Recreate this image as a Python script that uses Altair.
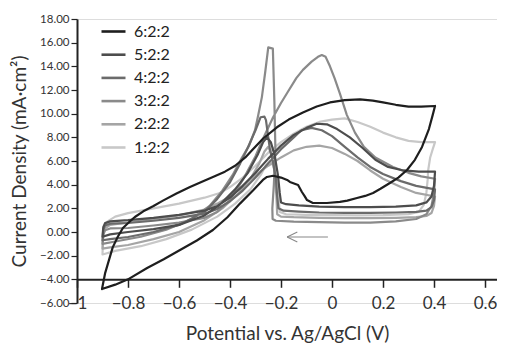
import altair as alt
import pandas as pd

SERIES = ["6:2:2", "5:2:2", "4:2:2", "3:2:2", "2:2:2", "1:2:2"]
COLORS = ["#1e1e1e", "#4d4d4d", "#6b6b6b", "#8a8a8a", "#a5a5a5", "#c8c8c8"]

X_TICKS = [-1, -0.8, -0.6, -0.4, -0.2, 0, 0.2, 0.4, 0.6]
Y_TICKS = [-6, -4, -2, 0, 2, 4, 6, 8, 10, 12, 14, 16, 18]

# 6:2:2 (forward branch then reverse branch, closed loop)
X_622 = [-0.902, -0.89, -0.875, -0.86, -0.84, -0.82, -0.795, -0.773, -0.74, -0.70, -0.663, -0.61, -0.557,
         -0.51, -0.467, -0.42, -0.38, -0.34, -0.31, -0.27, -0.216, -0.17, -0.114, -0.06, -0.008, 0.05, 0.11,
         0.16, 0.20, 0.25, 0.30, 0.35, 0.404,
         0.395, 0.38, 0.353, 0.325, 0.294, 0.26, 0.227, 0.19, 0.161, 0.13, 0.098, 0.06, 0.031, -0.02, -0.075,
         -0.098, -0.108, -0.118, -0.133, -0.165, -0.176, -0.2, -0.231, -0.255, -0.271, -0.31, -0.361, -0.41,
         -0.467, -0.53, -0.596, -0.66, -0.725, -0.80, -0.85, -0.902]
Y_622 = [-4.82, -3.5, -2.4, -1.3, -0.4, 0.34, 0.85, 1.27, 1.75, 2.2, 2.65, 3.25, 3.8,
         4.25, 4.65, 5.1, 5.6, 6.3, 7.0, 7.9, 8.85, 9.5, 10.1, 10.6, 10.95, 11.15, 11.2,
         11.1, 10.95, 10.75, 10.6, 10.6, 10.65,
         9.9, 8.7, 7.19, 6.1, 5.24, 4.6, 4.14, 3.65, 3.3, 3.05, 2.87, 2.65, 2.54, 2.45, 2.45,
         2.7, 3.05, 3.38, 3.97, 4.23, 4.4, 4.6, 4.75, 4.65, 4.4, 3.5, 2.4, 1.25,
         0.17, -0.72, -1.52, -2.3, -3.04, -4.0, -4.45, -4.82]

# 5:2:2
X_522 = [-0.9, -0.897, -0.89, -0.87, -0.8, -0.7, -0.6, -0.5, -0.45, -0.4, -0.35, -0.3, -0.25, -0.2, -0.15,
         -0.1, -0.06, -0.02, 0.02, 0.07, 0.12, 0.17, 0.22, 0.28, 0.34, 0.404,
         0.4, 0.39, 0.37, 0.33, 0.25, 0.15, 0.05, -0.05, -0.13, -0.18, -0.2, -0.205, -0.212, -0.225, -0.24,
         -0.255, -0.27, -0.29, -0.33, -0.38, -0.44, -0.5, -0.6, -0.7, -0.8, -0.87, -0.9]
Y_522 = [-0.4, 0.4, 0.75, 0.9, 1.0, 1.2, 1.45, 1.8, 2.2, 2.9, 3.9, 5.0, 6.2, 7.3, 8.2,
         8.8, 9.15, 9.1, 8.7, 8.0, 7.1, 6.1, 5.5, 5.2, 5.1, 5.1,
         3.9, 3.0, 2.5, 2.25, 2.15, 2.1, 2.1, 2.15, 2.25, 2.35, 2.5, 3.3, 4.8, 6.5, 7.6,
         8.0, 7.6, 6.6, 5.0, 3.6, 2.3, 1.4, 0.6, 0.25, 0.0, -0.2, -0.4]

# 4:2:2
X_422 = [-0.9, -0.897, -0.89, -0.87, -0.8, -0.7, -0.6, -0.5, -0.45, -0.4, -0.35, -0.3, -0.25, -0.2, -0.15,
         -0.12, -0.08, -0.04, 0.0, 0.05, 0.1, 0.15, 0.2, 0.27, 0.33, 0.404,
         0.4, 0.39, 0.37, 0.33, 0.25, 0.15, 0.05, -0.05, -0.13, -0.19, -0.21, -0.215, -0.22, -0.232, -0.243,
         -0.259, -0.265, -0.28, -0.3, -0.335, -0.36, -0.4, -0.45, -0.5, -0.6, -0.7, -0.8, -0.87, -0.9]
Y_422 = [-0.7, 0.2, 0.55, 0.7, 0.76, 0.95, 1.2, 1.55, 1.95, 2.6, 3.5, 4.6, 5.8, 7.0, 8.0,
         8.6, 8.8, 8.6, 8.1, 7.2, 6.3, 5.5, 4.9, 4.3, 3.9, 3.6,
         2.7, 2.1, 1.8, 1.7, 1.65, 1.62, 1.62, 1.65, 1.72, 1.8, 2.0, 3.0, 4.5, 6.0, 6.9,
         9.45, 9.75, 9.7, 8.6, 6.9, 5.8, 4.2, 2.8, 1.7, 0.6, 0.0, -0.42, -0.6, -0.7]

# 3:2:2
X_322 = [-0.9, -0.897, -0.89, -0.87, -0.8, -0.7, -0.6, -0.5, -0.45, -0.4, -0.35, -0.3, -0.27, -0.231, -0.2,
         -0.176, -0.14, -0.114, -0.08, -0.055, -0.04, -0.025, -0.008, 0.01, 0.031, 0.058, 0.09, 0.125, 0.17,
         0.239, 0.3, 0.35, 0.404,
         0.4, 0.39, 0.37, 0.33, 0.25, 0.15, 0.05, -0.05, -0.15, -0.22, -0.233, -0.234, -0.228, -0.222, -0.226,
         -0.232, -0.25, -0.262, -0.275, -0.29, -0.302, -0.325, -0.353, -0.39, -0.43, -0.48, -0.55, -0.65,
         -0.75, -0.85, -0.9]
Y_322 = [-1.0, -0.2, 0.15, 0.3, 0.34, 0.55, 0.8, 1.2, 1.7, 2.7, 4.4, 6.4, 7.9, 9.7, 10.9,
         11.75, 13.0, 13.7, 14.4, 14.8, 14.95, 14.8, 14.0, 13.0, 11.7, 9.9, 8.4, 7.2, 6.3,
         5.5, 5.0, 4.7, 4.5,
         3.3, 2.2, 1.5, 1.1, 0.9, 0.8, 0.8, 0.83, 0.88, 0.95, 1.1, 2.0, 4.0, 7.0, 11.0,
         15.5, 15.6, 13.5, 11.4, 9.8, 8.6, 7.3, 6.3, 4.8, 3.5, 2.2, 1.1, 0.2,
         -0.4, -0.8, -1.0]

# 2:2:2
X_222 = [-0.9, -0.897, -0.89, -0.87, -0.8, -0.7, -0.6, -0.5, -0.45, -0.4, -0.35, -0.3, -0.25, -0.2, -0.15,
         -0.1, -0.05, 0.0, 0.05, 0.1, 0.15, 0.2, 0.27, 0.33, 0.404,
         0.4, 0.39, 0.37, 0.33, 0.25, 0.15, 0.05, -0.05, -0.15, -0.2, -0.215, -0.218, -0.225, -0.235, -0.25,
         -0.265, -0.285, -0.32, -0.37, -0.43, -0.5, -0.6, -0.7, -0.8, -0.87, -0.9]
Y_222 = [-1.4, -0.3, 0.3, 0.6, 0.8, 1.1, 1.4, 1.9, 2.4, 3.0, 3.9, 4.8, 5.6, 6.3, 6.9,
         7.2, 7.3, 7.1, 6.6, 6.0, 5.2, 4.5, 3.8, 3.3, 3.0,
         2.2, 1.6, 1.35, 1.25, 1.2, 1.18, 1.18, 1.2, 1.25, 1.3, 1.5, 3.0, 5.0, 6.5, 7.2,
         6.8, 5.8, 4.5, 3.2, 2.0, 1.0, 0.0, -0.6, -1.1, -1.3, -1.4]

# 1:2:2
X_122 = [-0.9, -0.898, -0.893, -0.88, -0.85, -0.8, -0.7, -0.6, -0.5, -0.44, -0.4, -0.35, -0.3, -0.25, -0.2,
         -0.15, -0.1, -0.05, 0.0, 0.05, 0.1, 0.15, 0.2, 0.25, 0.3, 0.35, 0.404,
         0.395, 0.385, 0.377, 0.375, 0.37, 0.36, 0.34, 0.3, 0.2, 0.1, 0.0, -0.1, -0.18, -0.205, -0.21, -0.218,
         -0.23, -0.245, -0.26, -0.28, -0.32, -0.38, -0.45, -0.55, -0.65, -0.75, -0.85, -0.9]
Y_122 = [-1.9, -0.5, 0.4, 0.9, 1.3, 1.6, 2.0, 2.4, 2.9, 3.3, 3.8, 4.6, 5.6, 6.7, 7.6,
         8.3, 8.9, 9.3, 9.5, 9.6, 9.3, 8.9, 8.4, 8.0, 7.7, 7.6, 7.6,
         7.0, 6.3, 5.2, 4.4, 3.3, 2.3, 1.7, 1.5, 1.42, 1.4, 1.42, 1.45, 1.5, 1.7, 3.0, 4.5,
         5.6, 6.0, 5.6, 4.8, 3.6, 2.4, 1.3, 0.2, -0.6, -1.2, -1.6, -1.9]

# scan-direction arrow (shaft + two head strokes)
ARROW_X = [-0.176, -0.176, -0.176]
ARROW_X2 = [-0.016, -0.136, -0.136]
ARROW_Y = [-0.42, -0.42, -0.42]
ARROW_Y2 = [-0.42, 0.0, -0.84]

curves = {
    "1:2:2": (X_122, Y_122),
    "2:2:2": (X_222, Y_222),
    "3:2:2": (X_322, Y_322),
    "4:2:2": (X_422, Y_422),
    "5:2:2": (X_522, Y_522),
    "6:2:2": (X_622, Y_622),
}

rows = []
for name, (xs, ys) in curves.items():
    for i, (xv, yv) in enumerate(zip(xs, ys)):
        rows.append({"series": name, "idx": i, "x": xv, "y": yv})
df = pd.DataFrame(rows)

arrow_df = pd.DataFrame({"x": ARROW_X, "x2": ARROW_X2, "y": ARROW_Y, "y2": ARROW_Y2})

FONT = "Lato"

xscale = alt.Scale(domain=[-1, 0.647], nice=False, zero=False)
yscale = alt.Scale(domain=[-6, 18], nice=False, zero=False)

lines = alt.Chart(df).mark_line(strokeWidth=2.2, strokeJoin="round", strokeCap="round").encode(
    x=alt.X("x:Q", scale=xscale, axis=alt.Axis(
        values=X_TICKS, tickCount=len(X_TICKS), format="~g", offset=-23.7, tickSize=8, tickWidth=1.5,
        tickColor="#222", domainColor="#222", domainWidth=2, labelFontSize=17, labelPadding=8,
        labelColor="#333", labelFlush=False, labelOverlap=False, grid=False, labelFont=FONT,
        title="Potential vs. Ag/AgCl (V)", titleFont=FONT, titleFontSize=19, titleFontWeight="normal",
        titleColor="#333", titleY=60, titleBaseline="alphabetic")),
    y=alt.Y("y:Q", scale=yscale, axis=alt.Axis(
        values=Y_TICKS, tickCount=len(Y_TICKS), format=".2f", tickSize=6, tickWidth=1.2, tickColor="#222",
        domainColor="#222", domainWidth=2, labelFontSize=11.5, labelPadding=2, labelColor="#333",
        labelFlush=False, labelOverlap=False, grid=False, labelFont=FONT,
        title="Current Density (mA·cm²)", titleFont=FONT, titleFontSize=19, titleFontWeight="normal",
        titleColor="#333", titleX=-58, titleBaseline="middle")),
    color=alt.Color("series:N", scale=alt.Scale(domain=SERIES, range=COLORS), legend=alt.Legend(
        title=None, orient="none", legendX=23, legendY=-1, symbolType="stroke", symbolSize=576,
        symbolStrokeWidth=2.6, labelFontSize=16, labelFont=FONT, labelColor="#222", labelOffset=7,
        rowPadding=1.2, padding=0)),
    order="idx:Q",
)

arrow = alt.Chart(arrow_df).mark_rule(color="#888888", strokeWidth=1.1).encode(
    x=alt.X("x:Q", scale=xscale), x2="x2:Q", y=alt.Y("y:Q", scale=yscale), y2="y2:Q")

chart = alt.layer(lines, arrow).properties(
    width=420, height=284,
    autosize=alt.AutoSizeParams(type="none"),
    padding={"left": 69, "top": 11, "right": 0, "bottom": 43},
).configure_view(stroke=None).configure(background="white")

chart.save("out.html", embed_options={"renderer": "svg", "actions": False})
